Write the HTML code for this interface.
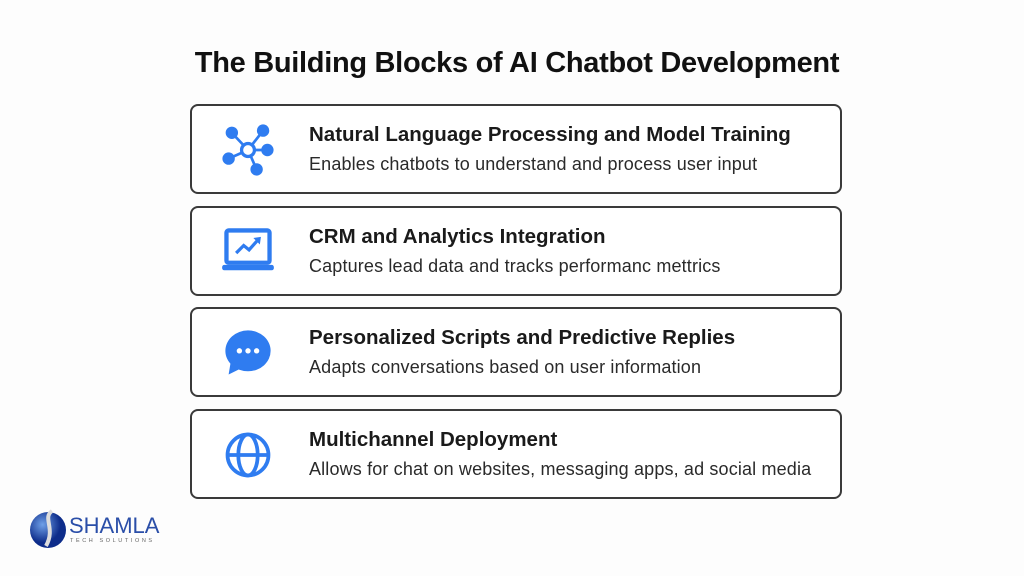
<!DOCTYPE html>
<html><head><meta charset="utf-8"><style>
body{margin:0;width:1024px;height:576px;background:#fdfdfd;font-family:"Liberation Sans",sans-serif;position:relative;overflow:hidden}
.t{position:absolute;left:0;width:1034px;text-align:center;top:47px;font-size:29px;font-weight:bold;color:#111;letter-spacing:-0.3px}
.b{position:absolute;left:190px;width:648px;height:86px;border:2px solid #3a3a3a;border-radius:8px;background:#fff}
.h{position:absolute;left:117px;top:17px;font-size:20.5px;font-weight:bold;color:#1a1a1a;white-space:nowrap}
.s{position:absolute;left:117px;top:48px;font-size:18px;letter-spacing:0.15px;color:#2a2a2a;white-space:nowrap}
.i{position:absolute;left:28px;top:16px;width:56px;height:56px}
</style></head><body>
<div class="t">The Building Blocks of AI Chatbot Development</div>

<div class="b" style="top:104px">
<svg class="i" viewBox="0 0 52 52"><g stroke="#2f7cf0" stroke-width="2.5" fill="#2f7cf0">
<line x1="26" y1="26" x2="11" y2="10"/><line x1="26" y1="26" x2="40" y2="8"/><line x1="26" y1="26" x2="44" y2="26"/><line x1="26" y1="26" x2="8" y2="34"/><line x1="26" y1="26" x2="34" y2="44"/>
<circle cx="11" cy="10" r="4.5"/><circle cx="40" cy="8" r="4.5"/><circle cx="44" cy="26" r="4.5"/><circle cx="8" cy="34" r="4.5"/><circle cx="34" cy="44" r="4.5"/>
<circle cx="26" cy="26" r="6" fill="#fff" stroke-width="3"/></g></svg>
<div class="h">Natural Language Processing and Model Training</div>
<div class="s">Enables chatbots to understand and process user input</div></div>

<div class="b" style="top:206px">
<svg class="i" viewBox="0 0 52 52"><rect x="6" y="6" width="40" height="30" rx="2" fill="none" stroke="#2f7cf0" stroke-width="4"/>
<rect x="2" y="38" width="48" height="5" rx="2" fill="#2f7cf0"/>
<polyline points="15,27 22,20 27,24 35,15" fill="none" stroke="#2f7cf0" stroke-width="3"/><polygon points="31,13 38,12 37,19" fill="#2f7cf0"/></svg>
<div class="h">CRM and Analytics Integration</div>
<div class="s">Captures lead data and tracks performanc mettrics</div></div>

<div class="b" style="top:307px">
<svg class="i" viewBox="0 0 52 52"><ellipse cx="26" cy="24" rx="21" ry="19" fill="#2f7cf0"/><polygon points="10,34 8,46 20,40" fill="#2f7cf0"/>
<circle cx="18" cy="24" r="2.5" fill="#fff"/><circle cx="26" cy="24" r="2.5" fill="#fff"/><circle cx="34" cy="24" r="2.5" fill="#fff"/></svg>
<div class="h">Personalized Scripts and Predictive Replies</div>
<div class="s">Adapts conversations based on user information</div></div>

<div class="b" style="top:409px">
<svg class="i" viewBox="0 0 52 52"><g fill="none" stroke="#2f7cf0" stroke-width="3.5"><circle cx="26" cy="26" r="19"/><ellipse cx="26" cy="26" rx="9" ry="19"/><line x1="7" y1="26" x2="45" y2="26"/></g></svg>
<div class="h">Multichannel Deployment</div>
<div class="s">Allows for chat on websites, messaging apps, ad social media</div></div>

<svg style="position:absolute;left:28px;top:506px" width="140" height="46" viewBox="0 0 140 46">
<defs><radialGradient id="g" cx="0.35" cy="0.35"><stop offset="0" stop-color="#6fa0e8"/><stop offset="1" stop-color="#0d2c8a"/></radialGradient></defs>
<circle cx="20" cy="24" r="18" fill="url(#g)"/><path d="M24 5 C14 12 28 22 18 40" stroke="#ddd" stroke-width="4" fill="none"/>
<text x="41" y="27" font-family="Liberation Sans,sans-serif" font-size="22" fill="#2a4ea8">SHAMLA</text>
<text x="42" y="36" font-family="Liberation Sans,sans-serif" font-size="5.5" fill="#666" letter-spacing="2.6">TECH SOLUTIONS</text></svg>
</body></html>
